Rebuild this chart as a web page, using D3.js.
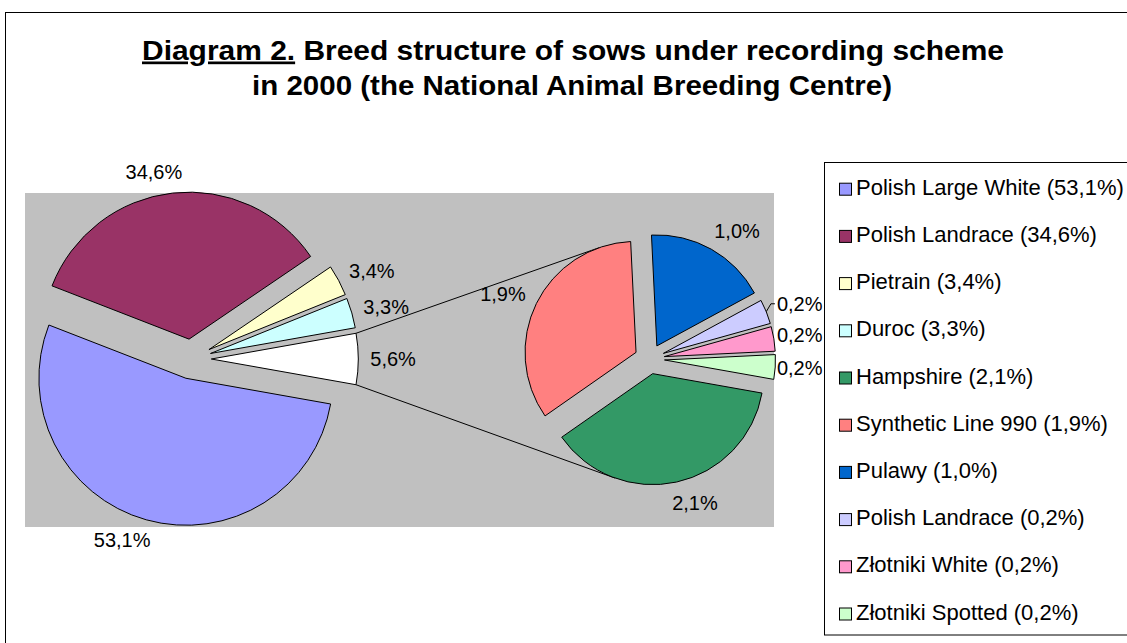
<!DOCTYPE html>
<html>
<head>
<meta charset="utf-8">
<script src="https://cdn.jsdelivr.net/npm/d3@7"></script>
<style>
  body { margin: 0; background: #fff; }
  svg { display: block; font-family: "Liberation Sans", Arial, sans-serif; }
</style>
</head>
<body>
<svg id="chart" width="1127" height="643"></svg>
<script>
// Breed shares of recorded sows in 2000 (percent)
const mainBreeds  = ["Polish Large White", "Polish Landrace", "Pietrain", "Duroc"];
const mainShares  = [53.1, 34.6, 3.4, 3.3];
const minorBreeds = ["Hampshire", "Synthetic Line 990", "Pulawy", "Polish Landrace", "Złotniki White", "Złotniki Spotted"];
const minorShares = [2.1, 1.9, 1.0, 0.2, 0.2, 0.2];

const mainColors  = ["#9999FF", "#993366", "#FFFFCC", "#CCFFFF"];
const otherColor  = "#FFFFFF";
const minorColors = ["#339966", "#FF8080", "#0066CC", "#CCCCFF", "#FF99CC", "#CCFFCC"];

const titleLead  = "Diagram 2.";
const titleRest  = " Breed structure of sows under recording scheme";
const titleLine2 = "in 2000 (the National Animal Breeding Centre)";

// ---- layout ----
const W = 1127, H = 643;
const plot = { x: 25, y: 193, w: 749, h: 334 };
const leftPie  = { cx: 191.3, cy: 359, r: 147, explode: 20 };
const rightPie = { cx: 649.5, cy: 359, r: 111, explode: 15 };
const legendBox = { x: 824.5, y: 162.5, rowY: 195.7, rowStep: 47.2 };
const labelSize = 20, labelH = 18, labelGap = 12;

const fmt = v => d3.format(".1f")(v).replace(".", ",") + "%";

const svg = d3.select("#chart");

// outer chart frame (runs off the right and bottom edges)
svg.append("rect")
  .attr("x", 5.5).attr("y", 12.5).attr("width", 1300).attr("height", 800)
  .attr("fill", "#fff").attr("stroke", "#000").attr("stroke-width", 1);

// title
const t1 = svg.append("text")
  .attr("x", 573).attr("y", 59.5).attr("text-anchor", "middle")
  .attr("font-size", 27).attr("font-weight", "bold")
  .attr("textLength", 862).attr("lengthAdjust", "spacingAndGlyphs");
t1.append("tspan").attr("text-decoration", "underline").text(titleLead);
t1.append("tspan").text(titleRest);
svg.append("text")
  .attr("x", 572).attr("y", 95).attr("text-anchor", "middle")
  .attr("font-size", 27).attr("font-weight", "bold")
  .attr("textLength", 640).attr("lengthAdjust", "spacingAndGlyphs")
  .text(titleLine2);

// plot area
svg.append("rect")
  .attr("x", plot.x).attr("y", plot.y).attr("width", plot.w).attr("height", plot.h)
  .attr("fill", "#C0C0C0");

// ---- pie data ----
const otherShare = d3.sum(minorShares);
const mainData = mainBreeds.map((name, i) => ({ name, value: mainShares[i], color: mainColors[i] }))
  .concat([{ name: "Other", value: otherShare, color: otherColor, other: true }]);
const minorData = minorBreeds.map((name, i) => ({ name, value: minorShares[i], color: minorColors[i] }));

const mainTotal = d3.sum(mainData, d => d.value);
// the "other" wedge is centred on 3 o'clock
const a0 = Math.PI / 2 + Math.PI * otherShare / mainTotal;
const pieGen = d3.pie().sort(null).value(d => d.value).startAngle(a0).endAngle(a0 + 2 * Math.PI);

const mainArcs  = pieGen(mainData);
const minorArcs = pieGen(minorData);

const dirOf = a => [Math.sin(a), -Math.cos(a)];
function place(arcs, P) {
  arcs.forEach(d => {
    d.mid = (d.startAngle + d.endAngle) / 2;
    d.dir = dirOf(d.mid);
    d.ex = P.cx + P.explode * d.dir[0];
    d.ey = P.cy + P.explode * d.dir[1];
    d.P = P;
  });
}
place(mainArcs, leftPie);
place(minorArcs, rightPie);

// ---- connector lines: tangents from the "other" wedge corners to the second pie ----
const otherArc = mainArcs[mainArcs.length - 1];
const corner = a => {
  const u = dirOf(a);
  return [otherArc.ex + leftPie.r * u[0], otherArc.ey + leftPie.r * u[1]];
};
function tangents(p, c, R) {
  const dx = c[0] - p[0], dy = c[1] - p[1];
  const d = Math.hypot(dx, dy);
  const b = Math.asin(R / d), L = Math.sqrt(d * d - R * R);
  const base = Math.atan2(dy, dx);
  return [base - b, base + b].map(t => [p[0] + L * Math.cos(t), p[1] + L * Math.sin(t)]);
}
function inSlice(d, pt) {
  let t = Math.atan2(pt[0] - d.ex, -(pt[1] - d.ey));
  while (t < d.startAngle) t += 2 * Math.PI;
  while (t >= d.startAngle + 2 * Math.PI) t -= 2 * Math.PI;
  return t <= d.endAngle;
}
function connector(p, upper) {
  for (const d of minorArcs) {
    const ts = tangents(p, [d.ex, d.ey], rightPie.r).sort((a, b) => a[1] - b[1]);
    const t = upper ? ts[0] : ts[1];
    if (inSlice(d, t)) return t;
  }
  return null;
}
const cA = corner(otherArc.startAngle), cB = corner(otherArc.endAngle);
const upCorner  = cA[1] < cB[1] ? cA : cB;
const lowCorner = cA[1] < cB[1] ? cB : cA;
[[upCorner, true], [lowCorner, false]].forEach(([p, up]) => {
  const t = connector(p, up);
  if (t) svg.append("line")
    .attr("x1", p[0]).attr("y1", p[1]).attr("x2", t[0]).attr("y2", t[1])
    .attr("stroke", "#000").attr("stroke-width", 1);
});

// ---- slices ----
function drawPie(arcs, P) {
  const arcGen = d3.arc().innerRadius(0).outerRadius(P.r);
  svg.append("g").selectAll("path").data(arcs).join("path")
    .attr("transform", d => `translate(${d.ex},${d.ey})`)
    .attr("d", arcGen)
    .attr("fill", d => d.data.color)
    .attr("stroke", "#000").attr("stroke-width", 1)
    .attr("stroke-linejoin", "miter").attr("stroke-miterlimit", 12);
}
drawPie(mainArcs, leftPie);
drawPie(minorArcs, rightPie);

// ---- data labels ----
const labelLayer = svg.append("g").attr("font-size", labelSize).attr("fill", "#000");
function drawLabels(arcs) {
  arcs.forEach(d => {
    const P = d.P;
    const txt = labelLayer.append("text").attr("text-anchor", "middle").text(fmt(d.data.value));
    const w = txt.node().getComputedTextLength();
    const [ux, uy] = d.dir;
    const ax = d.ex + (P.r + labelGap) * ux, ay = d.ey + (P.r + labelGap) * uy;
    const natural = ax + ux * w / 2 + Math.sign(ux) * uy * uy * w / 4;
    const cy = ay + uy * labelH / 2;
    // keep labels clear of the legend
    const limit = legendBox.x - 2 - w / 2;
    const pushed = natural > limit;
    const cx = pushed ? limit : natural;
    txt.attr("x", cx).attr("y", cy + 7);
    // a pushed label gets a leader line if it no longer touches its wedge
    const px = d.ex + P.r * ux, py = d.ey + P.r * uy;
    const left = cx - w / 2, right = cx + w / 2, top = cy - labelH / 2, bot = cy + labelH / 2;
    const ddx = Math.max(left - px, 0, px - right), ddy = Math.max(top - py, 0, py - bot);
    if (pushed && Math.hypot(ddx, ddy) > 6) {
      labelLayer.append("path")
        .attr("d", `M${px},${py}L${left - 6},${cy}L${left - 2},${cy}`)
        .attr("fill", "none").attr("stroke", "#000").attr("stroke-width", 1);
    }
  });
}
drawLabels(mainArcs);
drawLabels(minorArcs);

// ---- legend ----
svg.append("rect")
  .attr("x", legendBox.x).attr("y", legendBox.y).attr("width", 400).attr("height", 472.5)
  .attr("fill", "#fff").attr("stroke", "#000").attr("stroke-width", 1);
const legendItems = mainData.filter(d => !d.other).concat(minorData);
const lg = svg.append("g").selectAll("g").data(legendItems).join("g")
  .attr("transform", (d, i) => `translate(0,${legendBox.rowY + i * legendBox.rowStep})`);
lg.append("rect")
  .attr("x", 839.5).attr("y", -12.5).attr("width", 12).attr("height", 12)
  .attr("fill", d => d.color).attr("stroke", "#000").attr("stroke-width", 1);
lg.append("text")
  .attr("x", 856).attr("y", -1).attr("font-size", 22)
  .text(d => `${d.name} (${fmt(d.value)})`);
</script>
</body>
</html>
